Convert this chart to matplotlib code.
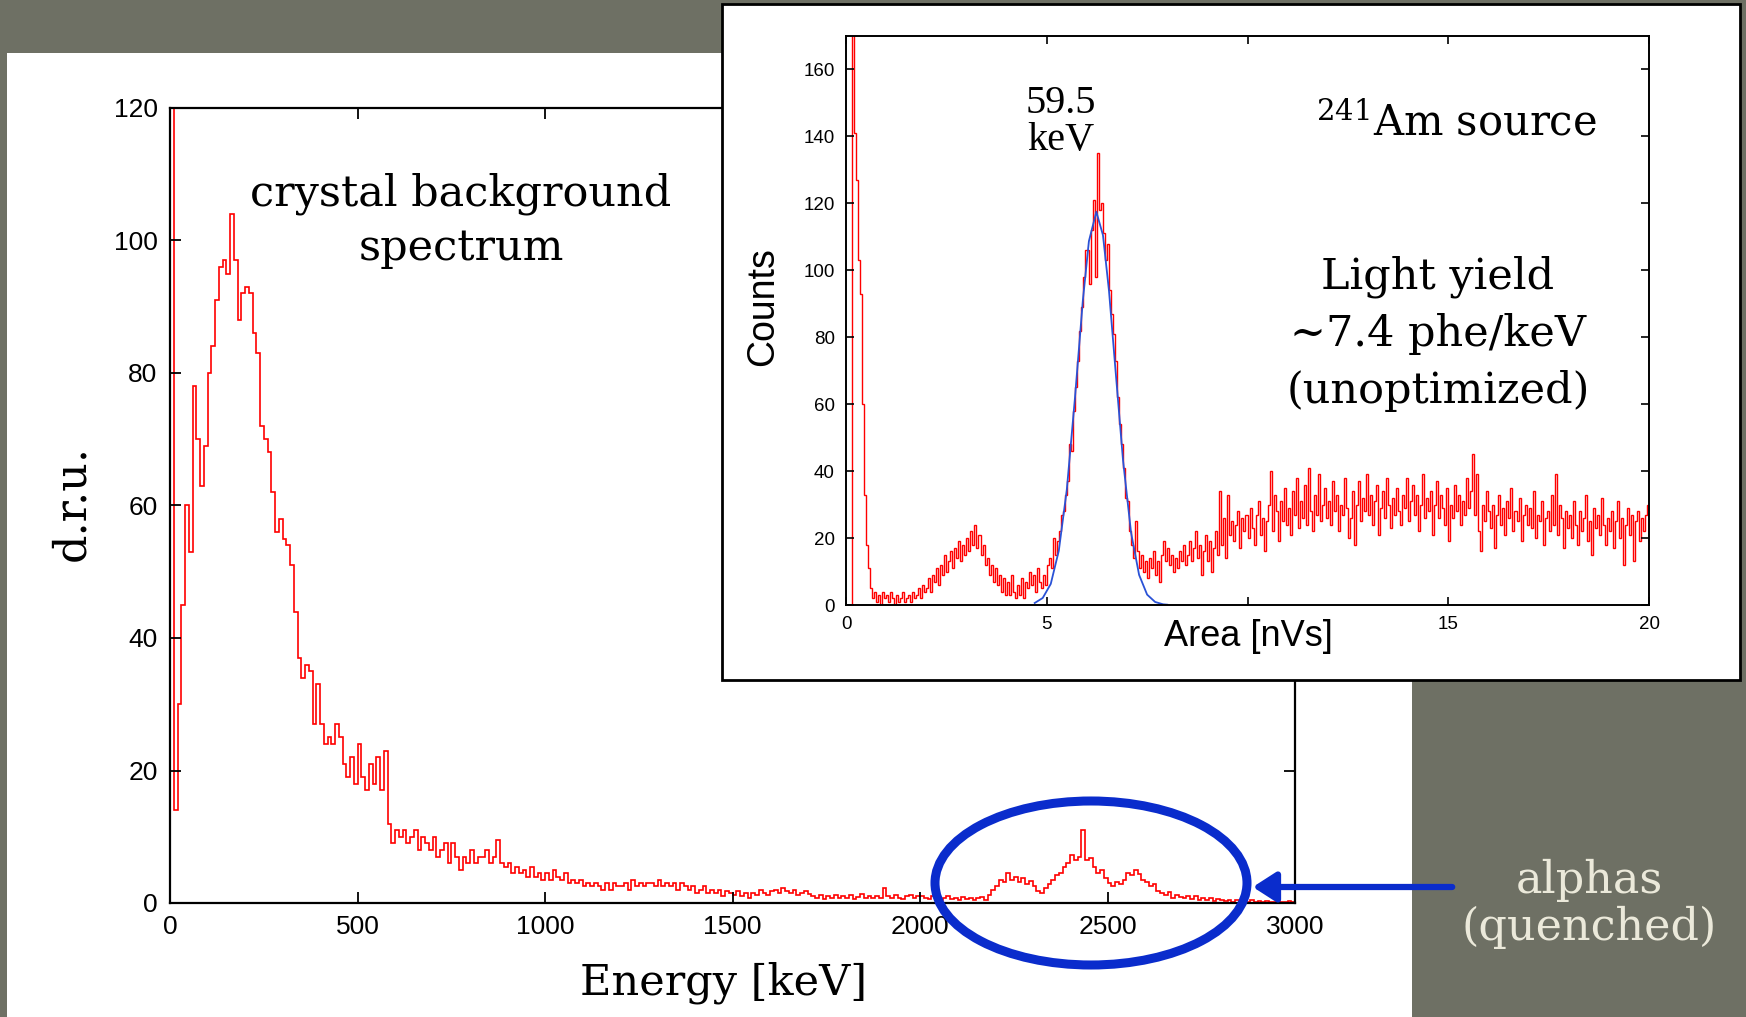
import numpy as np
import matplotlib.pyplot as plt
from matplotlib.patches import Rectangle, Ellipse, FancyArrowPatch

plt.rcParams['font.family'] = ['Liberation Sans', 'DejaVu Sans']
plt.rcParams['mathtext.fontset'] = 'dejavuserif'

W, H = 1746, 1017
SLAB = 'DejaVu Serif'
BG = '#6e7064'

# main spectrum, 10 keV bins from 0 to 3000 keV (d.r.u.)
ENERGY_BIN = 10
DRU_VALUES = [
    125, 14, 30, 45, 60, 53, 78, 70, 63, 69,
    80, 84, 91, 96, 97, 95, 104, 97, 88, 92,
    93, 92, 86, 83, 72, 70, 68, 62, 56, 58,
    55, 54, 51, 44, 37, 34, 36, 35, 27, 33,
    27, 24, 25, 24, 27, 25, 21, 19, 22, 18,
    24, 19, 17, 21, 18, 22, 17, 23, 12, 9,
    11, 10, 11, 9, 10, 11, 8, 10, 9, 8,
    10, 7, 8, 9, 6, 9, 7, 5, 7, 6,
    8, 6, 7, 7, 8, 6, 7, 9.5, 6, 5.5,
    6, 4.5, 5.5, 4.5, 5, 4, 5.5, 4, 4.5, 3.5,
    4.5, 3.5, 5, 4, 3.5, 4.5, 3, 3.5, 3, 3.5,
    2.5, 3, 2.5, 3, 2.5, 2, 3, 2, 3, 2.5,
    2.5, 3, 2, 3.5, 2.5, 3, 2.5, 3, 3, 2.5,
    3.5, 2.5, 3, 2.5, 3, 2, 3, 2.5, 2, 2.5,
    1.5, 2, 2.5, 1.5, 2, 1.5, 2, 1, 1.8, 1.5,
    1.2, 1.8, 1, 1.5, 0.8, 1.5, 1.2, 2, 1.5, 1.2,
    1.8, 2, 1.5, 2.2, 1.8, 1.5, 2, 1.2, 1.5, 1.8,
    1.3, 1, 0.8, 1.2, 0.6, 1, 0.8, 1.2, 0.7, 1,
    0.8, 1.2, 0.6, 0.9, 1.3, 0.7, 1, 0.8, 1.1, 0.8,
    2.2, 1, 0.7, 1.2, 0.8, 0.6, 1, 1.2, 0.7, 1,
    1.1, 0.8, 0.6, 1, 0.9, 0.5, 0.8, 1, 0.6, 0.8,
    0.5, 0.9, 0.6, 0.8, 0.5, 0.7, 0.9, 0.5, 1.2, 2,
    2.5, 3.5, 3.2, 4.5, 3.5, 4, 3.2, 3.8, 2.8, 3.3,
    2.5, 1.8, 1.5, 2.3, 2.8, 3.5, 4.2, 4.6, 5.5, 6,
    7.3, 6.5, 7, 11, 6.5, 6.8, 5.5, 4.5, 5, 3.8,
    3, 2.5, 3.2, 2.8, 3.5, 4.6, 4.2, 5, 4.4, 3.5,
    3.2, 2.5, 2.8, 1.8, 1.5, 1.2, 1.6, 0.8, 1.2, 0.9,
    0.7, 1.1, 0.6, 1, 0.5, 0.8, 0.4, 0.7, 0.3, 0.6,
    0.4, 0.3, 0.5, 0.2, 0.4, 0.2, 0.3, 0.1, 0.4, 0.2,
    0.3, 0.1, 0.3, 0.2, 0.1, 0.3, 0.2, 0.1, 0.3, 0.2,
]
ENERGY_TICKS = [0, 500, 1000, 1500, 2000, 2500, 3000]
DRU_TICKS = [0, 20, 40, 60, 80, 100, 120]

# inset: 241Am source, 0.05 nVs bins from 0 to 20 nVs
AREA_BIN = 0.05
AM_COUNTS = [
    0, 0, 0, 190, 141, 127, 103, 93, 60, 33, 18, 11, 5, 2, 4, 1, 3, 0, 4, 2,
    3, 1, 4, 2, 0, 3, 1, 2, 4, 1, 2, 3, 1, 4, 2, 3, 5, 2, 6, 4,
    5, 8, 4, 9, 7, 11, 6, 12, 9, 15, 10, 13, 16, 11, 17, 14, 19, 13, 18, 15,
    20, 16, 22, 18, 24, 17, 21, 15, 18, 12, 14, 9, 12, 7, 11, 6, 9, 4, 8, 3,
    7, 3, 9, 4, 2, 6, 3, 8, 2, 7, 5, 10, 6, 9, 4, 11, 7, 5, 9, 6,
    12, 14, 11, 20, 15, 19, 22, 27, 28, 33, 37, 48, 46, 58, 65, 73, 82, 89, 98, 106,
    106, 96, 112, 121, 98, 135, 118, 120, 111, 103, 108, 94, 87, 81, 73, 62, 54, 48, 41, 32,
    31, 22, 18, 14, 25, 16, 11, 15, 10, 13, 8, 14, 11, 16, 9, 13, 7, 15, 19, 13,
    17, 12, 15, 10, 14, 11, 16, 13, 18, 12, 15, 19, 13, 17, 22, 14, 18, 9, 16, 21,
    13, 19, 10, 17, 22, 15, 34, 18, 26, 14, 33, 21, 25, 19, 24, 28, 17, 26, 22, 27,
    20, 29, 23, 18, 27, 31, 21, 26, 16, 25, 30, 40, 22, 33, 28, 19, 31, 25, 35, 24,
    29, 21, 34, 27, 38, 23, 31, 26, 36, 24, 41, 28, 22, 33, 27, 39, 25, 30, 35, 26,
    31, 24, 37, 28, 33, 22, 30, 27, 38, 29, 20, 26, 34, 18, 30, 37, 25, 32, 28, 39,
    27, 33, 24, 31, 36, 21, 29, 34, 26, 38, 30, 23, 32, 27, 35, 28, 24, 33, 29, 38,
    25, 31, 36, 27, 33, 22, 30, 39, 26, 32, 28, 34, 21, 30, 37, 26, 33, 29, 24, 35,
    19, 30, 26, 36, 28, 33, 24, 31, 27, 38, 29, 34, 45, 27, 39, 22, 16, 30, 25, 34,
    28, 23, 30, 17, 27, 33, 24, 29, 21, 31, 26, 35, 22, 28, 25, 32, 19, 27, 30, 24,
    29, 23, 34, 20, 27, 25, 31, 18, 26, 28, 22, 33, 24, 39, 21, 30, 26, 17, 28, 23,
    27, 20, 31, 24, 18, 28, 22, 26, 33, 19, 25, 15, 29, 23, 27, 21, 32, 24, 18, 26,
    22, 28, 17, 25, 31, 20, 26, 12, 24, 29, 21, 27, 13, 25, 28, 19, 26, 22, 27, 30,
]
# fitted peak (blue line)
FIT_AREA = [4.7, 4.9, 5.1, 5.3, 5.5, 5.7, 5.9, 6.05, 6.235, 6.4, 6.55,
            6.7, 6.9, 7.1, 7.3, 7.5, 7.7, 7.9, 8.0]
FIT_COUNTS = [0.6, 2.1, 6.3, 16.2, 34.5, 61.5, 91.1, 108.7, 117.5, 110.5,
              93.9, 72.0, 43.2, 21.6, 9.0, 3.1, 0.9, 0.2, 0.1]
AREA_TICKS = [0, 5, 10, 15, 20]
AREA_TICK_LABELS = ['0', '5', '', '15', '20']
COUNT_TICKS = [0, 20, 40, 60, 80, 100, 120, 140, 160]


def fx(px):
    return px / W


def fy(py):
    return 1 - py / H


fig = plt.figure(figsize=(W / 100, H / 100), dpi=100, facecolor=BG)

# white slide panel
fig.add_artist(Rectangle((fx(7), 0), fx(1412) - fx(7), fy(53),
                         transform=fig.transFigure, facecolor='white',
                         edgecolor='none', zorder=-1))

# ---- main spectrum ----
ax = fig.add_axes([fx(170), fy(903), fx(1295) - fx(170), fy(108) - fy(903)])
edges = np.arange(len(DRU_VALUES) + 1) * ENERGY_BIN
ax.stairs(DRU_VALUES, edges, color='red', lw=1.2)
ax.set_xlim(0, 3000)
ax.set_ylim(0, 120)
ax.set_xticks(ENERGY_TICKS)
ax.set_yticks(DRU_TICKS)
ax.tick_params(direction='in', length=8, width=1.3, top=True, right=True,
               labelsize=19, pad=9, colors='black')
ax.tick_params(axis='x', labeltop=False)
ax.tick_params(axis='y', labelright=False)
for s in ax.spines.values():
    s.set_linewidth(1.6)

fig.text(fx(724), fy(983), 'Energy [keV]', ha='center', va='center',
         fontsize=31, family=SLAB)
fig.text(fx(72), fy(503), 'd.r.u.', ha='center', va='center', rotation=90,
         fontsize=32, family=SLAB)
fig.text(fx(461), fy(221), 'crystal background\nspectrum', ha='center',
         va='center', fontsize=31, family=SLAB, linespacing=1.35)

# ---- inset box and axes ----
fig.add_artist(Rectangle((fx(722), fy(680)), fx(1740) - fx(722), fy(4) - fy(680),
                         transform=fig.transFigure, facecolor='white',
                         edgecolor='black', lw=2, zorder=1))

axin = fig.add_axes([fx(846), fy(605), fx(1649) - fx(846), fy(36) - fy(605)])
axin.set_zorder(2)
aedges = np.arange(len(AM_COUNTS) + 1) * AREA_BIN
axin.stairs(AM_COUNTS, aedges, color='red', lw=1.0)
axin.plot(FIT_AREA, FIT_COUNTS, color='#2a52d6', lw=1.3)
axin.set_xlim(0, 20)
axin.set_ylim(0, 170)
axin.set_xticks(AREA_TICKS)
axin.set_xticklabels(AREA_TICK_LABELS)
axin.set_yticks(COUNT_TICKS)
axin.tick_params(direction='in', length=6, width=1.2, top=True, right=True,
                 labelsize=13.5, pad=8)
axin.tick_params(axis='x', labeltop=False)
axin.tick_params(axis='y', labelright=False)
for s in axin.spines.values():
    s.set_linewidth(1.4)

fig.text(fx(1248), fy(636), 'Area [nVs]', ha='center', va='center',
         fontsize=26, zorder=4)
fig.text(fx(763), fy(307), 'Counts', ha='center', va='center', rotation=90,
         fontsize=27, zorder=4)
fig.text(fx(1061), fy(122), '59.5\nkeV', ha='center', va='center',
         fontsize=29, family='Liberation Serif', linespacing=1.0, zorder=4)
fig.text(fx(1456), fy(124), r'$^{241}$Am source', ha='center', va='center',
         fontsize=30, family=SLAB, zorder=4)
fig.text(fx(1438), fy(334), 'Light yield\n~7.4 phe/keV\n(unoptimized)',
         ha='center', va='center', fontsize=31, family=SLAB,
         linespacing=1.45, zorder=4)

# ---- alpha annotation ----
fig.add_artist(Ellipse((fx(1091), fy(883)), fx(312), 164 / H,
                       transform=fig.transFigure, facecolor='none',
                       edgecolor='#0a2ccc', lw=6.5, zorder=3))
fig.add_artist(FancyArrowPatch((fx(1455), fy(887)), (fx(1250), fy(887)),
                               transform=fig.transFigure,
                               arrowstyle='-|>,head_length=0.7,head_width=0.45',
                               mutation_scale=20, color='#0a2ccc', lw=4.5,
                               zorder=3))
fig.text(fx(1589), fy(904), 'alphas\n(quenched)', ha='center', va='center',
         fontsize=32, family=SLAB, color='#ebe9da', linespacing=1.1)

fig.savefig('out.png', dpi=100, facecolor=BG)
